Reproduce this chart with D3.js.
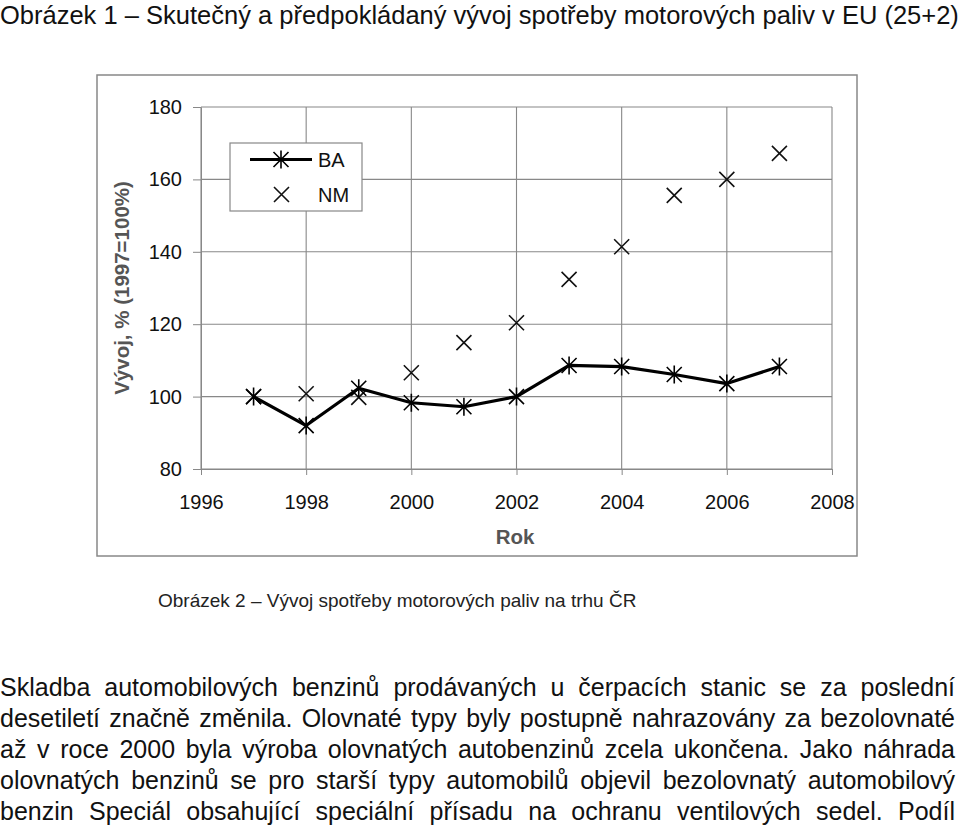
<!DOCTYPE html>
<html>
<head>
<meta charset="utf-8">
<script src="https://cdn.jsdelivr.net/npm/d3@7"></script>
<style>
  body { margin: 0; background: #fff; }
  svg { display: block; font-family: "Liberation Sans", Arial, sans-serif; }
</style>
</head>
<body>
<div class="chart"></div>
<script>
// data
var years = [1997, 1998, 1999, 2000, 2001, 2002, 2003, 2004, 2005, 2006, 2007];
var baValues = [100, 92, 102.3, 98.3, 97.2, 100, 108.6, 108.3, 106.1, 103.6, 108.3];
var nmValues = [100, 100.8, 99.8, 106.6, 114.9, 120.4, 132.4, 141.4, 155.6, 160, 167.2];
var xTicks = [1996, 1998, 2000, 2002, 2004, 2006, 2008];
var yTicks = [80, 100, 120, 140, 160, 180];
var seriesNames = ["BA", "NM"];

var titleText = "Obrázek 1 – Skutečný a předpokládaný vývoj spotřeby motorových paliv v EU (25+2)";
var captionText = "Obrázek 2 – Vývoj spotřeby motorových paliv na trhu ČR";
var paragraph = [
  "Skladba automobilových benzinů prodávaných u čerpacích stanic se za poslední",
  "desetiletí značně změnila. Olovnaté typy byly postupně nahrazovány za bezolovnaté",
  "až v roce 2000 byla výroba olovnatých autobenzinů zcela ukončena. Jako náhrada",
  "olovnatých benzinů se pro starší typy automobilů objevil bezolovnatý automobilový",
  "benzin Speciál obsahující speciální přísadu na ochranu ventilových sedel. Podíl"
];

var svgWidth = 960;
var svgHeight = 836;

var svg = d3.select(".chart")
  .append("svg")
  .attr("width", svgWidth)
  .attr("height", svgHeight);

// title
svg.append("text")
  .attr("x", 0)
  .attr("y", 23.5)
  .attr("font-size", "25.5px")
  .attr("fill", "#111")
  .text(titleText);

// chart frame
svg.append("rect")
  .attr("x", 97)
  .attr("y", 75)
  .attr("width", 760)
  .attr("height", 481)
  .attr("fill", "#fff")
  .attr("stroke", "#888")
  .attr("stroke-width", 1.5);

var plot = { left: 201, right: 832, top: 107, bottom: 469 };

var x = d3.scaleLinear().domain([1996, 2008]).range([plot.left, plot.right]);
var y = d3.scaleLinear().domain([80, 180]).range([plot.bottom, plot.top]);

// gridlines
svg.append("g").selectAll("line.h")
  .data(yTicks).enter().append("line")
  .attr("x1", plot.left).attr("x2", plot.right)
  .attr("y1", d => y(d)).attr("y2", d => y(d))
  .attr("stroke", "#888").attr("stroke-width", 1.1);

svg.append("g").selectAll("line.v")
  .data(xTicks).enter().append("line")
  .attr("x1", d => x(d)).attr("x2", d => x(d))
  .attr("y1", plot.top).attr("y2", plot.bottom)
  .attr("stroke", "#888").attr("stroke-width", 1.1);

// axes
var leftAxis = d3.axisLeft(y).tickValues(yTicks).tickSize(8).tickPadding(11).tickSizeOuter(0);
var bottomAxis = d3.axisBottom(x).tickValues(xTicks).tickFormat(d3.format("d")).tickSize(6).tickPadding(20).tickSizeOuter(0);

var gy = svg.append("g")
  .attr("transform", `translate(${plot.left}, 0)`)
  .call(leftAxis);
var gx = svg.append("g")
  .attr("transform", `translate(0, ${plot.bottom})`)
  .call(bottomAxis);

[gx, gy].forEach(function(g) {
  g.select(".domain").attr("stroke", "#888");
  g.selectAll(".tick line").attr("stroke", "#888");
  g.selectAll(".tick text")
    .attr("font-family", "Liberation Sans, Arial, sans-serif")
    .attr("font-size", "20px")
    .attr("fill", "#111");
});

// axis titles
svg.append("text")
  .attr("transform", "rotate(-90)")
  .attr("x", -(plot.top + plot.bottom) / 2)
  .attr("y", 129)
  .attr("text-anchor", "middle")
  .attr("font-size", "20.5px")
  .attr("font-weight", "bold")
  .attr("fill", "#555")
  .text("Vývoj, % (1997=100%)");

svg.append("text")
  .attr("x", 515)
  .attr("y", 544)
  .attr("text-anchor", "middle")
  .attr("font-size", "20.5px")
  .attr("font-weight", "bold")
  .attr("fill", "#555")
  .text("Rok");

// marker paths
function crossPath(s) {
  return `M${-s},${-s}L${s},${s}M${-s},${s}L${s},${-s}`;
}
function starPath(s) {
  return crossPath(s) + `M0,${-s * 1.2}L0,${s * 1.2}`;
}

var ba = years.map((yr, i) => ({ year: yr, value: baValues[i] }));
var nm = years.map((yr, i) => ({ year: yr, value: nmValues[i] }));

// NM markers
svg.append("g").selectAll("path")
  .data(nm).enter().append("path")
  .attr("transform", d => `translate(${x(d.year)}, ${y(d.value)})`)
  .attr("d", crossPath(7.5))
  .attr("stroke", "#111")
  .attr("stroke-width", 1.6)
  .attr("fill", "none");

// BA line
var line = d3.line()
  .x(d => x(d.year))
  .y(d => y(d.value));

svg.append("path")
  .datum(ba)
  .attr("d", line)
  .attr("fill", "none")
  .attr("stroke", "#000")
  .attr("stroke-width", 3.2)
  .attr("stroke-linejoin", "round");

svg.append("g").selectAll("path")
  .data(ba).enter().append("path")
  .attr("transform", d => `translate(${x(d.year)}, ${y(d.value)})`)
  .attr("d", starPath(7.5))
  .attr("stroke", "#000")
  .attr("stroke-width", 1.6)
  .attr("fill", "none");

// legend
var legend = svg.append("g");
legend.append("rect")
  .attr("x", 230).attr("y", 143)
  .attr("width", 132).attr("height", 68)
  .attr("fill", "#fff")
  .attr("stroke", "#888")
  .attr("stroke-width", 1.2);

legend.append("line")
  .attr("x1", 250).attr("x2", 312)
  .attr("y1", 159.5).attr("y2", 159.5)
  .attr("stroke", "#000").attr("stroke-width", 3.2);
legend.append("path")
  .attr("transform", "translate(281, 159.5)")
  .attr("d", starPath(7.5))
  .attr("stroke", "#000").attr("stroke-width", 1.6).attr("fill", "none");
legend.append("path")
  .attr("transform", "translate(281.5, 194.5)")
  .attr("d", crossPath(7.5))
  .attr("stroke", "#111").attr("stroke-width", 1.6).attr("fill", "none");

legend.selectAll("text")
  .data(seriesNames).enter().append("text")
  .attr("x", 318)
  .attr("y", (d, i) => 167 + i * 35)
  .attr("font-size", "20px")
  .attr("fill", "#111")
  .text(d => d);

// caption of the next figure
svg.append("text")
  .attr("x", 158)
  .attr("y", 607)
  .attr("font-size", "19px")
  .attr("fill", "#222")
  .text(captionText);

// justified paragraph
var paraWidth = 955;
paragraph.forEach(function(t, i) {
  var txt = svg.append("text")
    .attr("x", 0)
    .attr("y", 696 + i * 31)
    .attr("font-size", "25px")
    .attr("fill", "#111")
    .text(t);
  var natural = txt.node().getComputedTextLength();
  var gaps = t.split(" ").length - 1;
  txt.attr("word-spacing", ((paraWidth - natural) / gaps) + "px");
});
</script>
</body>
</html>
